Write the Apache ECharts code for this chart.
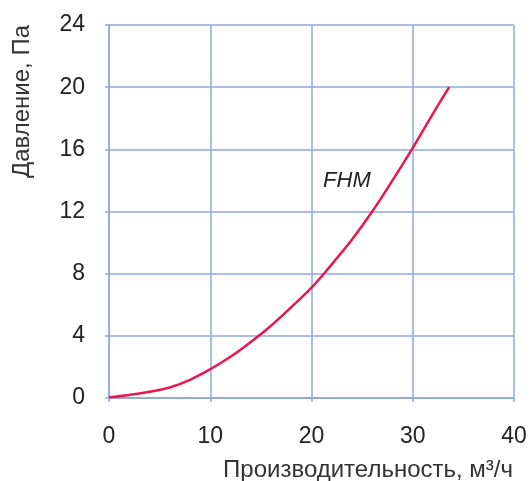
<!DOCTYPE html>
<html><head><meta charset="utf-8">
<script src="https://cdn.jsdelivr.net/npm/echarts@6/dist/echarts.min.js"></script>
<style>html,body{margin:0;padding:0;background:#fff}#c{width:531px;height:481px}</style>
</head><body><div id="c"></div>
<script>
const flowValues = [0, 2, 4, 6, 8, 10, 12, 14, 16, 18, 20, 22, 24, 26, 28, 30, 32, 33.6];
const pressureValues = [0.05, 0.2, 0.4, 0.68, 1.17, 1.85, 2.65, 3.6, 4.65, 5.85, 7.1, 8.6, 10.2, 12.0, 14.0, 16.1, 18.3, 20.0];
const seriesName = 'FHM';
const labelPos = [23.5, 14.0];
const xTicks = [0, 10, 20, 30, 40];
const yTicks = [0, 4, 8, 12, 16, 20, 24];
const xTitle = 'Производительность, м³/ч';
const yTitle = 'Давление, Па';

const gridColor = '#8faadc';
const font = 'Liberation Sans, Arial';
const chart = echarts.init(document.getElementById('c'));
chart.setOption({
  animation: false,
  grid: {left: 109, right: 17, top: 25, bottom: 83},
  xAxis: {
    type: 'value', min: xTicks[0], max: xTicks[xTicks.length-1], interval: 10,
    axisLine: {show: true, lineStyle: {color: gridColor, width: 2}},
    axisTick: {show: true, length: 4, lineStyle: {color: gridColor, width: 1.5}},
    splitLine: {show: true, lineStyle: {color: gridColor, width: 1.5}},
    axisLabel: {color: '#222', fontSize: 23, fontFamily: font, margin: 27, lineHeight: 24}
  },
  yAxis: {
    type: 'value', min: yTicks[0], max: yTicks[yTicks.length-1], interval: 4,
    axisLine: {show: true, lineStyle: {color: gridColor, width: 1.5}},
    axisTick: {show: true, length: 4, lineStyle: {color: gridColor, width: 1.5}},
    splitLine: {show: true, lineStyle: {color: gridColor, width: 1.5}},
    axisLabel: {color: '#222', fontSize: 23, fontFamily: font, margin: 24}
  },
  series: [{
    name: seriesName, type: 'line', smooth: 0.4, showSymbol: false,
    data: flowValues.map((x, i) => [x, pressureValues[i]]),
    lineStyle: {color: '#e8174e', width: 2.5},
    markPoint: {
      symbol: 'circle', symbolSize: 0,
      data: [{coord: labelPos}],
      label: {show: true, position: 'inside', formatter: seriesName, color: '#222',
        fontSize: 22, fontStyle: 'italic', fontWeight: 500, fontFamily: font}
    }
  }],
  graphic: [
    {type: 'text', left: 10, top: 25, rotation: Math.PI/2,
      style: {text: yTitle, fill: '#333', fontSize: 24, fontFamily: font}},
    {type: 'text', right: 18, top: 458,
      style: {text: xTitle, fill: '#333', fontSize: 24, fontFamily: font}}
  ]
});
</script></body></html>
